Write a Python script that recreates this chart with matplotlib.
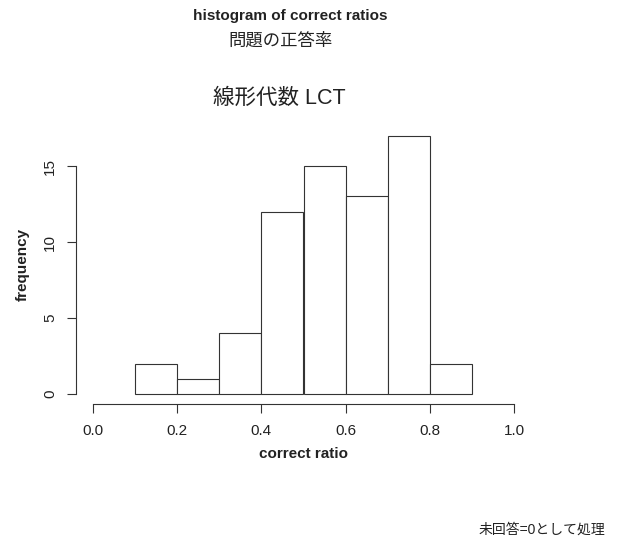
import numpy as np
import matplotlib
matplotlib.use("Agg")
import matplotlib.pyplot as plt

plt.rcParams['font.family'] = ['Liberation Sans', 'Noto Sans CJK JP', 'DejaVu Sans']

# histogram bins and counts
bin_edges = [0.1, 0.2, 0.3, 0.4, 0.5, 0.6, 0.7, 0.8, 0.9]
counts = [2, 1, 4, 12, 15, 13, 17, 2]
x_ticks = [0.0, 0.2, 0.4, 0.6, 0.8, 1.0]
y_ticks = [0, 5, 10, 15]

fig = plt.figure(figsize=(6.21, 5.39), dpi=100)
ax = fig.add_axes([76 / 621, 1 - 404.3 / 539, 455 / 621, 279 / 539])

lefts = bin_edges[:-1]
widths = np.diff(bin_edges)
ax.bar(lefts, counts, width=widths, align='edge', facecolor='white',
       edgecolor='#333333', linewidth=0.8)

ax.set_xlim(-0.04, 1.04)
ax.set_ylim(-0.68, 17.68)

for s in ['top', 'right']:
    ax.spines[s].set_visible(False)
ax.spines['left'].set_bounds(0, 15)
ax.spines['bottom'].set_bounds(0, 1)
for s in ['left', 'bottom']:
    ax.spines[s].set_color('#333333')
    ax.spines[s].set_linewidth(0.8)

ax.set_xticks(x_ticks)
ax.set_xticklabels([f'{v:.1f}' for v in x_ticks])
ax.set_yticks(y_ticks)
ax.set_yticklabels([str(v) for v in y_ticks], rotation=90, va='center')
ax.tick_params(direction='out', length=6.5, width=0.8, color='#333333',
               labelsize=11, labelcolor='#222222')
ax.tick_params(axis='x', pad=8)
ax.tick_params(axis='y', pad=7)

ax.set_xlabel('correct ratio', fontsize=11, fontweight='bold', color='#222222', labelpad=6)
ax.set_ylabel('frequency', fontsize=11, fontweight='bold', color='#222222', labelpad=10)

cjk = ['Liberation Sans', 'Noto Sans CJK JP', 'DejaVu Sans']
fig.text(290 / 621, 1 - 16 / 539, 'histogram of correct ratios', ha='center', va='center',
         fontsize=11, fontweight='bold', color='#222222')
fig.text(281 / 621, 1 - 40 / 539, '問題の正答率', ha='center', va='center',
         fontsize=12.5, color='#222222', family=cjk)
fig.text(279 / 621, 1 - 98 / 539, '線形代数 LCT', ha='center', va='center',
         fontsize=15.5, color='#222222', family=cjk)
fig.text(605 / 621, 1 - 530 / 539, '未回答=0として処理', ha='right', va='center',
         fontsize=10, color='#222222', family=cjk)

fig.savefig('out.png', dpi=100)
